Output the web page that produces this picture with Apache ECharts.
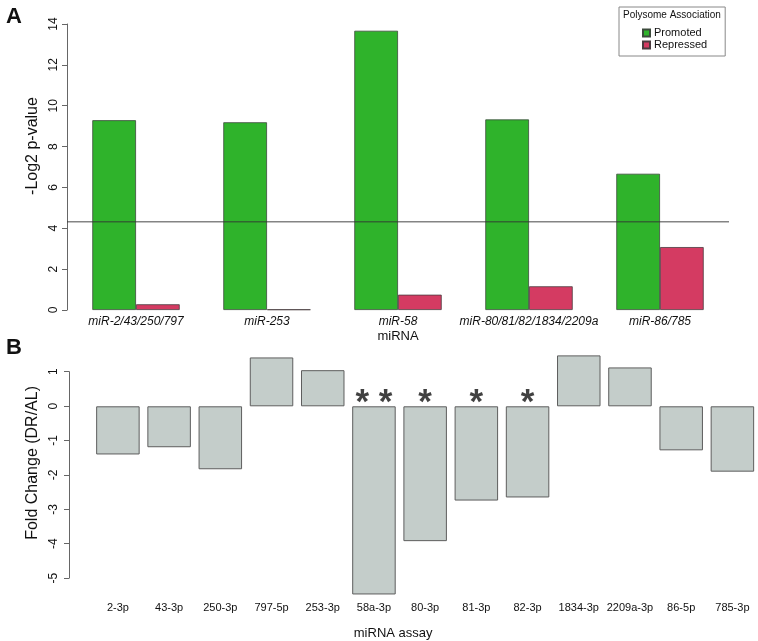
<!DOCTYPE html>
<html>
<head>
<meta charset="utf-8">
<script src="https://cdn.jsdelivr.net/npm/echarts@6/dist/echarts.min.js"></script>
<style>html,body{margin:0;padding:0;background:#fff}#c{width:758px;height:641px}</style>
</head>
<body>
<div id="c"></div>
<script>
// Panel A data
const groupsA = ['miR-2/43/250/797', 'miR-253', 'miR-58', 'miR-80/81/82/1834/2209a', 'miR-86/785'];
const promoted = [9.29, 9.19, 13.67, 9.33, 6.67];
const repressed = [0.28, 0.03, 0.75, 1.16, 3.08];
const threshold = 4.32;
const ticksA = [0, 2, 4, 6, 8, 10, 12, 14];
// Panel B data
const assaysB = ['2-3p', '43-3p', '250-3p', '797-5p', '253-3p', '58a-3p', '80-3p', '81-3p', '82-3p', '1834-3p', '2209a-3p', '86-5p', '785-3p'];
const foldChange = [-1.40, -1.19, -1.83, 1.42, 1.05, -5.47, -3.92, -2.74, -2.65, 1.48, 1.13, -1.28, -1.90];
const stars = ['', '', '', '', '', '* *', '*', '*', '*', '', '', '', ''];
const ticksB = [-5, -4, -3, -2, -1, 0, 1];

const FONT = 'Liberation Sans';
const chart = echarts.init(document.getElementById('c'));

const axisCommon = {
  axisLine: {show: true, lineStyle: {color: '#666', width: 1}},
  axisTick: {show: true, length: 5, lineStyle: {color: '#666'}},
  splitLine: {show: false}
};

chart.setOption({
  animation: false,
  textStyle: {fontFamily: FONT},
  title: [
    {text: 'A', left: 1, top: 1, textStyle: {fontSize: 22, fontWeight: 'bold', color: '#111', fontFamily: FONT}},
    {text: 'B', left: 1, top: 332, textStyle: {fontSize: 22, fontWeight: 'bold', color: '#111', fontFamily: FONT}},
    {text: 'Polysome Association', left: 619, top: 10, padding: [0, 0, 0, 4],
     textStyle: {fontSize: 10, fontWeight: 'normal', color: '#111', fontFamily: FONT}}
  ],
  legend: {
    data: ['Promoted', 'Repressed'],
    orient: 'vertical',
    left: 619, top: 7,
    padding: [20, 18, 5, 23],
    itemWidth: 7, itemHeight: 7, itemGap: 0,
    borderColor: '#888', borderWidth: 1,
    textStyle: {fontSize: 11, color: '#111', fontFamily: FONT, lineHeight: 12, padding: [0, 0, 0, -1]},
    icon: 'rect'
  },
  grid: [
    {left: 67, top: 24, width: 662, height: 286},          // A axis grid
    {left: 70.5, top: 24, width: 655, height: 286},        // A bars grid
    {left: 69, top: 371.7, width: 660, height: 206.4},     // B axis grid
    {left: 92.3, top: 354.7, width: 668, height: 240.8}    // B bars grid
  ],
  xAxis: [
    {gridIndex: 0, type: 'value', min: 0, max: 1, show: false},
    {gridIndex: 1, type: 'category', data: groupsA,
     axisLine: {show: false}, axisTick: {show: false},
     axisLabel: {fontSize: 12, fontStyle: 'italic', color: '#111', margin: 6, interval: 0},
     name: 'miRNA', nameLocation: 'middle', nameGap: 20,
     nameTextStyle: {fontSize: 13, color: '#111'}},
    {gridIndex: 2, type: 'value', min: 0, max: 1, show: false},
    {gridIndex: 3, type: 'category', data: assaysB,
     axisLine: {show: false}, axisTick: {show: false},
     axisLabel: {fontSize: 11, color: '#111', margin: 7, interval: 0},
     name: 'miRNA assay', nameLocation: 'middle', nameGap: 31,
     nameTextStyle: {fontSize: 13, color: '#111', padding: [0, 64, 0, 0]}}
  ],
  yAxis: [
    Object.assign({gridIndex: 0, type: 'value', min: ticksA[0], max: ticksA[ticksA.length - 1], interval: 2,
     axisLabel: {rotate: 90, fontSize: 12, color: '#111', margin: 7},
     name: '-Log2 p-value', nameLocation: 'middle', nameGap: 24, nameRotate: 90,
     nameTextStyle: {fontSize: 16, color: '#111', padding: [0, 0, 0, 42]}}, axisCommon),
    {gridIndex: 1, type: 'value', min: 0, max: 14, show: false},
    Object.assign({gridIndex: 2, type: 'value', min: ticksB[0], max: ticksB[ticksB.length - 1], interval: 1,
     axisLabel: {rotate: 90, fontSize: 12, color: '#111', margin: 9},
     name: 'Fold Change (DR/AL)', nameLocation: 'middle', nameGap: 25, nameRotate: 90,
     nameTextStyle: {fontSize: 16, color: '#111', padding: [0, 0, 0, 24]}}, axisCommon),
    {gridIndex: 3, type: 'value', min: -5.5, max: 1.5, show: false}
  ],
  series: [
    {name: 'Promoted', type: 'bar', xAxisIndex: 1, yAxisIndex: 1, data: promoted,
     barWidth: 43.7, barGap: '0%',
     itemStyle: {color: '#2fb32b', borderColor: '#3c4a3c', borderWidth: 0.8}},
    {name: 'Repressed', type: 'bar', xAxisIndex: 1, yAxisIndex: 1, data: repressed,
     barWidth: 43.7, barGap: '0%',
     itemStyle: {color: '#d43b62', borderColor: '#4a3c40', borderWidth: 0.8}},
    {name: 'threshold', type: 'line', xAxisIndex: 0, yAxisIndex: 0, z: 5,
     data: [[0, threshold], [1, threshold]], symbol: 'none',
     lineStyle: {color: 'rgba(50,50,50,0.6)', width: 1.3}},
    {name: 'fold', type: 'bar', xAxisIndex: 3, yAxisIndex: 3, data: foldChange,
     barWidth: 43.5,
     itemStyle: {color: '#c4cdca', borderColor: '#5e5e5e', borderWidth: 1}},
    {name: 'stars', type: 'scatter', xAxisIndex: 3, yAxisIndex: 3, symbolSize: 0,
     data: stars.map((s, i) => s ? {value: [i, 0], label: {formatter: s}} : null).filter(d => d),
     label: {show: true, position: 'top', distance: -15, fontSize: 35, fontWeight: 'bold', color: '#111', fontFamily: FONT}}
  ]
});
</script>
</body>
</html>
